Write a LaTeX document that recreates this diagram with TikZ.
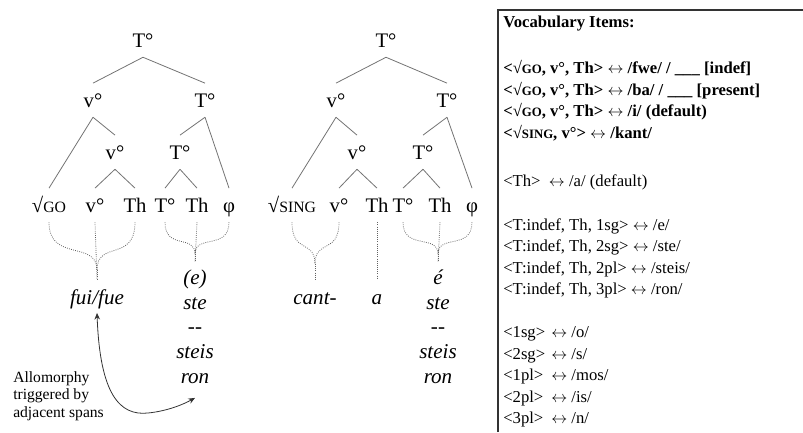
\documentclass[tikz,border=0pt]{standalone}
\usepackage{fontspec}
\setmainfont{Liberation Serif}
\usetikzlibrary{arrows.meta}

% reduced capitals standing in for small caps
\newcommand{\sctree}[1]{{\fontsize{11.8pt}{12pt}\selectfont #1}}
\newcommand{\scbox}[1]{{\fontsize{9.6pt}{10pt}\selectfont #1}}
% correspondence arrow
\newcommand{\corr}{\ensuremath{\leftrightarrow}}

\tikzset{
  tlab/.style={font=\fontsize{15.5pt}{18pt}\selectfont, text height=10.2pt,
    text depth=0pt, inner xsep=1pt, inner ysep=7.5pt, anchor=base},
  ital/.style={font=\fontsize{15.8pt}{18pt}\selectfont\itshape, text height=10pt,
    text depth=0pt, inner xsep=1pt, inner ysep=6.5pt, anchor=base},
  tline/.style={draw=black!55, line width=0.6pt},
  spanline/.style={draw=black!62, line width=0.6pt, densely dotted},
  allo/.style={<->, >={Stealth[length=5pt,width=4.2pt]}, draw=black!80, line width=0.6pt},
  note/.style={font=\fontsize{11.7pt}{13.3pt}\selectfont, align=left, anchor=north west, inner sep=0pt},
  vt/.style={font=\fontsize{12.5pt}{14pt}\selectfont, anchor=base west, inner sep=0pt},
  vb/.style={vt, font=\fontsize{12.5pt}{14pt}\selectfont\bfseries},
  boxline/.style={draw=black!80, line width=1.1pt}
}

\begin{document}
\begin{tikzpicture}[x=0.75pt, y=-0.75pt]
\useasboundingbox (0,0) rectangle (803,432);

% ---------- first tree: GO ----------
\node[tlab] (r1)  at (143,47)  {T°};
\node[tlab] (v1)  at (93,107)  {v°};
\node[tlab] (t1)  at (205,107) {T°};
\node[tlab] (vm1) at (115,159) {v°};
\node[tlab] (tm1) at (180,159) {T°};
\node[tlab] (l1a) at (49,212)  {√\sctree{GO}};
\node[tlab] (l1b) at (95,212)  {v°};
\node[tlab] (l1c) at (135,212) {Th};
\node[tlab] (l1d) at (165,212) {T°};
\node[tlab] (l1e) at (197,212) {Th};
\node[tlab] (l1f) at (229,212) {φ};

\draw[tline] (r1.south) -- (v1.north);
\draw[tline] (r1.south) -- (t1.north);
\draw[tline] (v1.south) -- (l1a.north);
\draw[tline] (v1.south) -- (vm1.north);
\draw[tline] (vm1.south) -- (l1b.north);
\draw[tline] (vm1.south) -- (l1c.north);
\draw[tline] (t1.south) -- (tm1.north);
\draw[tline] (t1.south) -- (l1f.north);
\draw[tline] (tm1.south) -- (l1d.north);
\draw[tline] (tm1.south) -- (l1e.north);

% spans of the first tree
\coordinate (a1) at (97,270);
\coordinate (a2) at (97,279);
\draw[spanline] (l1a.south) .. controls +(0,40) and +(0,-30) .. (a1);
\draw[spanline] (l1c.south) .. controls +(0,40) and +(0,-30) .. (a1);
\draw[spanline] (l1b.south) -- (a2);
\draw[spanline] (a1) -- (a2);

\coordinate (b1) at (195,254);
\coordinate (b2) at (195,262);
\draw[spanline] (l1d.south) .. controls +(0,28) and +(0,-20) .. (b1);
\draw[spanline] (l1f.south) .. controls +(0,28) and +(0,-20) .. (b1);
\draw[spanline] (l1e.south) -- (b2);
\draw[spanline] (b1) -- (b2);

\node[ital] (fui) at (97,304) {fui/fue};
\node[ital] (e1)  at (195,284) {(e)};
\node[ital] (s1)  at (195,309) {ste};
\node[ital] (d1)  at (195,333) {-{}-};
\node[ital] (st1) at (195,358) {steis};
\node[ital] (ro1) at (195,383) {ron};

% ---------- second tree: SING ----------
\node[tlab] (r2)  at (386,47)  {T°};
\node[tlab] (v2)  at (336,107) {v°};
\node[tlab] (t2)  at (447,107) {T°};
\node[tlab] (vm2) at (357,159) {v°};
\node[tlab] (tm2) at (423,159) {T°};
\node[tlab] (l2a) at (292,212) {√\sctree{SING}};
\node[tlab] (l2b) at (339,212) {v°};
\node[tlab] (l2c) at (377,212) {Th};
\node[tlab] (l2d) at (403,212) {T°};
\node[tlab] (l2e) at (440,212) {Th};
\node[tlab] (l2f) at (472,212) {φ};

\draw[tline] (r2.south) -- (v2.north);
\draw[tline] (r2.south) -- (t2.north);
\draw[tline] (v2.south) -- (l2a.north);
\draw[tline] (v2.south) -- (vm2.north);
\draw[tline] (vm2.south) -- (l2b.north);
\draw[tline] (vm2.south) -- (l2c.north);
\draw[tline] (t2.south) -- (tm2.north);
\draw[tline] (t2.south) -- (l2f.north);
\draw[tline] (tm2.south) -- (l2d.north);
\draw[tline] (tm2.south) -- (l2e.north);

% spans of the second tree
\coordinate (c1) at (315,264);
\coordinate (c2) at (315,279);
\draw[spanline] (l2a.south) .. controls +(0,32) and +(0,-25) .. (c1);
\draw[spanline] (l2b.south) .. controls +(0,32) and +(0,-25) .. (c1);
\draw[spanline] (c1) -- (c2);

\coordinate (th2) at (377,279);
\draw[spanline] (l2c.south) -- (th2);

\coordinate (e1c) at (438,254);
\coordinate (e2c) at (438,262);
\draw[spanline] (l2d.south) .. controls +(0,28) and +(0,-20) .. (e1c);
\draw[spanline] (l2f.south) .. controls +(0,28) and +(0,-20) .. (e1c);
\draw[spanline] (l2e.south) -- (e2c);
\draw[spanline] (e1c) -- (e2c);

\node[ital] (cant) at (315,304) {cant-};
\node[ital] (a)    at (377,304) {a};
\node[ital] (e2)   at (438,284) {é};
\node[ital] (s2)   at (438,309) {ste};
\node[ital] (d2)   at (438,333) {-{}-};
\node[ital] (st2)  at (438,358) {steis};
\node[ital] (ro2)  at (438,383) {ron};

% ---------- allomorphy note ----------
\node[note] (allo) at (13,371) {Allomorphy\\triggered by\\adjacent spans};
\draw[allo] (fui.south) .. controls (100,395) and (120,416) .. (148,413)
  .. controls (168,411) and (184,404) .. ([yshift=-4.5pt]ro1.south);

% ---------- vocabulary box ----------
\draw[boxline] (498,432) -- (498,10) -- (803,10);

\node[vb] (title) at (503,27) {Vocabulary Items:};
\node[vb] (g1) at (503,73)  {<√\scbox{GO}, v°, Th> \corr{} /fwe/ / \_\_\_ [indef]};
\node[vb] (g2) at (503,95)  {<√\scbox{GO}, v°, Th> \corr{} /ba/ / \_\_\_ [present]};
\node[vb] (g3) at (503,116) {<√\scbox{GO}, v°, Th> \corr{} /i/ (default)};
\node[vb] (g4) at (503,138) {<√\scbox{SING}, v°> \corr{} /kant/};

\node[vt] (th) at (503,186) {<Th>\hspace{0.5em}\corr{} /a/ (default)};

\node[vt] (ti1) at (503,230) {<T:indef, Th, 1sg> \corr{} /e/};
\node[vt] (ti2) at (503,251) {<T:indef, Th, 2sg> \corr{} /ste/};
\node[vt] (ti3) at (503,273) {<T:indef, Th, 2pl> \corr{} /steis/};
\node[vt] (ti4) at (503,294) {<T:indef, Th, 3pl> \corr{} /ron/};

\node[vt] (p1) at (503,337) {\makebox[36pt][l]{<1sg>}\corr{} /o/};
\node[vt] (p2) at (503,359) {\makebox[36pt][l]{<2sg>}\corr{} /s/};
\node[vt] (p3) at (503,380) {\makebox[36pt][l]{<1pl>}\corr{} /mos/};
\node[vt] (p4) at (503,402) {\makebox[36pt][l]{<2pl>}\corr{} /is/};
\node[vt] (p5) at (503,423) {\makebox[36pt][l]{<3pl>}\corr{} /n/};
\end{tikzpicture}
\end{document}
